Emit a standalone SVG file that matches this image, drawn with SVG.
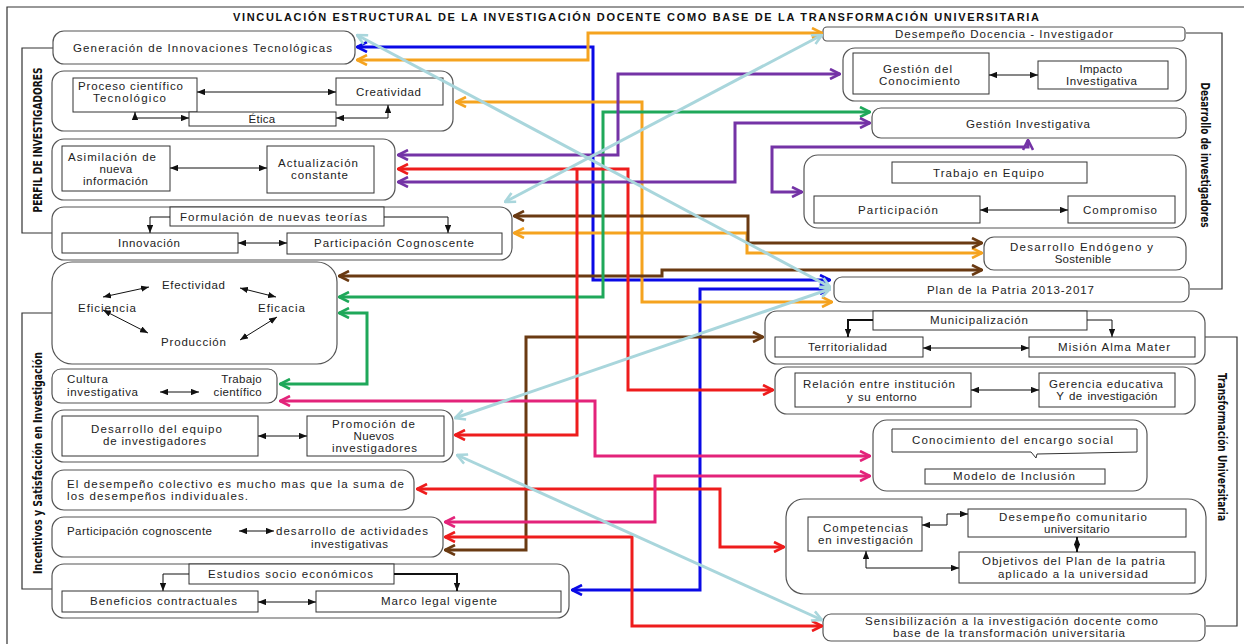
<svg xmlns="http://www.w3.org/2000/svg" width="1244" height="644" viewBox="0 0 1244 644">
  <style>
    .bg { fill: #ffffff; }
    .frame { fill: none; stroke: #333; stroke-width: 1.2; }
    .grp { fill: #fff; stroke: #555; stroke-width: 1.2; }
    .box { fill: #fff; stroke: #333; stroke-width: 1; }
    .t { font-family: "Liberation Sans", Arial, sans-serif; font-size: 11.5px; fill: #222; text-anchor: start; }
    .m { text-anchor: middle; letter-spacing: 0.3px; word-spacing: 1.5px; }
    .tr { text-anchor: end; letter-spacing: 0.3px; }
    .title { font-family: "Liberation Sans", Arial, sans-serif; font-size: 11px; font-weight: bold; fill: #111; }
    .side { font-family: "Liberation Sans Narrow", "DejaVu Sans Condensed", "Liberation Sans", sans-serif; font-size: 13px; font-weight: bold; fill: #111; text-anchor: middle; }
    .blk { fill: none; stroke: #111; stroke-width: 1; }
    .blk2 { fill: none; stroke: #111; stroke-width: 2; }
    .c { fill: none; stroke-width: 3; stroke-linejoin: miter; }
    .blue { stroke: #0a0ae6; }
    .orange { stroke: #f5a31f; }
    .brown { stroke: #6a3a12; }
    .green { stroke: #1fa85a; }
    .red { stroke: #ee1c1c; }
    .purple { stroke: #7433a6; }
    .pink { stroke: #e3237a; }
    .lblue { stroke: #a9d6dc; }
  </style>
  <defs>
    <marker id="tri" viewBox="0 0 10 8" refX="10" refY="4" markerWidth="8" markerHeight="6.5" orient="auto-start-reverse" markerUnits="userSpaceOnUse">
      <path d="M0,0 L10,4 L0,8 z" fill="#111"/>
    </marker>
    <marker id="aBlue" viewBox="0 0 12 12" refX="11" refY="6" markerWidth="12" markerHeight="12" orient="auto-start-reverse" markerUnits="userSpaceOnUse">
      <path d="M1,1 L11,6 L1,11" fill="none" stroke="#0a0ae6" stroke-width="2.6"/>
    </marker>
    <marker id="aOrange" viewBox="0 0 12 12" refX="11" refY="6" markerWidth="12" markerHeight="12" orient="auto-start-reverse" markerUnits="userSpaceOnUse">
      <path d="M1,1 L11,6 L1,11" fill="none" stroke="#f5a31f" stroke-width="2.6"/>
    </marker>
    <marker id="aBrown" viewBox="0 0 12 12" refX="11" refY="6" markerWidth="12" markerHeight="12" orient="auto-start-reverse" markerUnits="userSpaceOnUse">
      <path d="M1,1 L11,6 L1,11" fill="none" stroke="#6a3a12" stroke-width="2.6"/>
    </marker>
    <marker id="aGreen" viewBox="0 0 12 12" refX="11" refY="6" markerWidth="12" markerHeight="12" orient="auto-start-reverse" markerUnits="userSpaceOnUse">
      <path d="M1,1 L11,6 L1,11" fill="none" stroke="#1fa85a" stroke-width="2.6"/>
    </marker>
    <marker id="aRed" viewBox="0 0 12 12" refX="11" refY="6" markerWidth="12" markerHeight="12" orient="auto-start-reverse" markerUnits="userSpaceOnUse">
      <path d="M1,1 L11,6 L1,11" fill="none" stroke="#ee1c1c" stroke-width="2.6"/>
    </marker>
    <marker id="aPurple" viewBox="0 0 12 12" refX="11" refY="6" markerWidth="12" markerHeight="12" orient="auto-start-reverse" markerUnits="userSpaceOnUse">
      <path d="M1,1 L11,6 L1,11" fill="none" stroke="#7433a6" stroke-width="2.6"/>
    </marker>
    <marker id="aPink" viewBox="0 0 12 12" refX="11" refY="6" markerWidth="12" markerHeight="12" orient="auto-start-reverse" markerUnits="userSpaceOnUse">
      <path d="M1,1 L11,6 L1,11" fill="none" stroke="#e3237a" stroke-width="2.6"/>
    </marker>
    <marker id="aLblue" viewBox="0 0 12 12" refX="11" refY="6" markerWidth="12" markerHeight="12" orient="auto-start-reverse" markerUnits="userSpaceOnUse">
      <path d="M1,1 L11,6 L1,11" fill="none" stroke="#a9d6dc" stroke-width="2.6"/>
    </marker>
  </defs>

  <rect class="bg" x="0" y="0" width="1244" height="644"/>
  <path class="frame" d="M7,644 V7 H1244"/>

  <text class="title" x="233" y="21" textLength="806" lengthAdjust="spacing">VINCULACIÓN ESTRUCTURAL  DE LA INVESTIGACIÓN DOCENTE COMO BASE DE LA TRANSFORMACIÓN UNIVERSITARIA</text>

  <!-- side brackets and their labels -->
  <g id="bracket-perfil">
    <path class="frame" d="M53,48 H22 V233 H53"/>
    <text class="side" transform="translate(41.5,140) rotate(-90)" textLength="145" lengthAdjust="spacingAndGlyphs">PERFIL DE INVESTIGADORES</text>
  </g>
  <g id="bracket-incentivos">
    <path class="frame" d="M53,313 H22 V589 H53"/>
    <text class="side" transform="translate(42,463) rotate(-90)" textLength="222" lengthAdjust="spacingAndGlyphs">Incentivos y Satisfacción en Investigación</text>
  </g>
  <g id="bracket-desarrollo">
    <path class="frame" d="M1186,33 H1222 V289 H1190"/>
    <text class="side" transform="translate(1200.5,155) rotate(90)" textLength="145" lengthAdjust="spacingAndGlyphs">Desarrollo de investigadores</text>
  </g>
  <g id="bracket-transformacion">
    <path class="frame" d="M1205,337 H1237 V626 H1206"/>
    <text class="side" transform="translate(1217.5,447) rotate(90)" textLength="148" lengthAdjust="spacingAndGlyphs">Transformación Universitaria</text>
  </g>

  <!-- left column -->
  <g id="n-generacion">
    <rect class="grp" x="53" y="31" width="302" height="33" rx="11"/>
    <text class="t" x="73" y="52" textLength="259" lengthAdjust="spacing">Generación  de  Innovaciones  Tecnológicas</text>
  </g>

  <g id="n-proceso">
    <rect class="grp" x="52" y="71" width="401" height="60" rx="12"/>
    <rect class="box" x="73" y="78" width="124" height="34"/>
    <text class="t" x="78" y="90" textLength="105" lengthAdjust="spacing">Proceso científico</text>
    <text class="t" x="93" y="102" textLength="73" lengthAdjust="spacing">Tecnológico</text>
    <rect class="box" x="336" y="78" width="107" height="27"/>
    <text class="t" x="356" y="96" textLength="65" lengthAdjust="spacing">Creatividad</text>
    <rect class="box" x="189" y="112" width="147" height="14"/>
    <text class="t m" x="262" y="123">Ética</text>
    <path class="blk" d="M197,92 H336" marker-start="url(#tri)" marker-end="url(#tri)"/>
    <path class="blk" d="M135,112 V118 H189" marker-start="url(#tri)" marker-end="url(#tri)"/>
    <path class="blk" d="M336,118 H388 V105" marker-start="url(#tri)" marker-end="url(#tri)"/>
  </g>

  <g id="n-asimilacion">
    <rect class="grp" x="52" y="139" width="343" height="61" rx="12"/>
    <rect class="box" x="62" y="146" width="108" height="45"/>
    <text class="t" x="68" y="161" textLength="88" lengthAdjust="spacing">Asimilación de</text>
    <text class="t m" x="116" y="173">nueva</text>
    <text class="t" x="83" y="185" textLength="65" lengthAdjust="spacing">información</text>
    <rect class="box" x="267" y="146" width="107" height="47"/>
    <text class="t" x="278" y="167" textLength="80" lengthAdjust="spacing">Actualización</text>
    <text class="t" x="291" y="179" textLength="57" lengthAdjust="spacing">constante</text>
    <path class="blk" d="M170,168 H267" marker-start="url(#tri)" marker-end="url(#tri)"/>
  </g>

  <g id="n-formulacion">
    <rect class="grp" x="52" y="207" width="460" height="53" rx="12"/>
    <rect class="box" x="170" y="207" width="214" height="19"/>
    <text class="t" x="180" y="221" textLength="187" lengthAdjust="spacing">Formulación  de  nuevas  teorías</text>
    <rect class="box" x="62" y="233" width="176" height="20"/>
    <text class="t" x="118" y="247" textLength="62" lengthAdjust="spacing">Innovación</text>
    <rect class="box" x="287" y="233" width="215" height="21"/>
    <text class="t" x="314" y="247" textLength="160" lengthAdjust="spacing">Participación  Cognoscente</text>
    <path class="blk" d="M170,217 H150 V233" marker-end="url(#tri)"/>
    <path class="blk" d="M384,217 H448 V233" marker-end="url(#tri)"/>
    <path class="blk" d="M238,243 H287" marker-start="url(#tri)" marker-end="url(#tri)"/>
  </g>

  <g id="n-efectividad">
    <rect class="grp" x="52" y="262" width="285" height="102" rx="20"/>
    <text class="t" x="162" y="289" textLength="63" lengthAdjust="spacing">Efectividad</text>
    <text class="t" x="78" y="312" textLength="58" lengthAdjust="spacing">Eficiencia</text>
    <text class="t" x="258" y="312" textLength="47" lengthAdjust="spacing">Eficacia</text>
    <text class="t" x="161" y="346" textLength="65" lengthAdjust="spacing">Producción</text>
    <path class="blk" d="M103,297 L149,287" marker-start="url(#tri)" marker-end="url(#tri)"/>
    <path class="blk" d="M240,288 L276,297" marker-start="url(#tri)" marker-end="url(#tri)"/>
    <path class="blk" d="M103,310 L148,333" marker-start="url(#tri)" marker-end="url(#tri)"/>
    <path class="blk" d="M240,340 L277,317" marker-start="url(#tri)" marker-end="url(#tri)"/>
  </g>

  <g id="n-cultura">
    <rect class="grp" x="52" y="369" width="225" height="34" rx="9"/>
    <text class="t" x="67" y="383" textLength="41" lengthAdjust="spacing">Cultura</text>
    <text class="t" x="67" y="396" textLength="71" lengthAdjust="spacing">investigativa</text>
    <text class="t tr" x="262" y="383">Trabajo</text>
    <text class="t tr" x="262" y="396">científico</text>
    <path class="blk" d="M160,392 H199" marker-start="url(#tri)" marker-end="url(#tri)"/>
  </g>

  <g id="n-equipo">
    <rect class="grp" x="52" y="410" width="401" height="52" rx="12"/>
    <rect class="box" x="62" y="416" width="196" height="40"/>
    <text class="t" x="91" y="433" textLength="131" lengthAdjust="spacing">Desarrollo  del  equipo</text>
    <text class="t" x="103" y="445" textLength="103" lengthAdjust="spacing">de investigadores</text>
    <rect class="box" x="307" y="416" width="137" height="40"/>
    <text class="t" x="332" y="428" textLength="83" lengthAdjust="spacing">Promoción  de</text>
    <text class="t m" x="374" y="440">Nuevos</text>
    <text class="t" x="332" y="452" textLength="85" lengthAdjust="spacing">investigadores</text>
    <path class="blk" d="M258,436 H307" marker-start="url(#tri)" marker-end="url(#tri)"/>
  </g>

  <g id="n-colectivo">
    <rect class="grp" x="52" y="470" width="362" height="40" rx="12"/>
    <text class="t" x="67" y="488" textLength="337" lengthAdjust="spacing">El desempeño  colectivo  es  mucho  mas  que  la  suma  de</text>
    <text class="t" x="67" y="500" textLength="181" lengthAdjust="spacing">los  desempeños  individuales.</text>
  </g>

  <g id="n-participacion">
    <rect class="grp" x="52" y="517" width="391" height="40" rx="12"/>
    <text class="t" x="67" y="535" textLength="145" lengthAdjust="spacing">Participación  cognoscente</text>
    <path class="blk" d="M239,531 H274" marker-start="url(#tri)" marker-end="url(#tri)"/>
    <text class="t" x="276" y="535" textLength="152" lengthAdjust="spacing">desarrollo  de  actividades</text>
    <text class="t" x="311" y="548" textLength="77" lengthAdjust="spacing">investigativas</text>
  </g>

  <g id="n-estudios">
    <rect class="grp" x="52" y="564" width="517" height="54" rx="12"/>
    <rect class="box" x="189" y="564" width="205" height="20"/>
    <text class="t" x="208" y="578" textLength="165" lengthAdjust="spacing">Estudios  socio  económicos</text>
    <rect class="box" x="62" y="591" width="196" height="21"/>
    <text class="t" x="90" y="605" textLength="147" lengthAdjust="spacing">Beneficios  contractuales</text>
    <rect class="box" x="316" y="591" width="245" height="21"/>
    <text class="t" x="381" y="605" textLength="116" lengthAdjust="spacing">Marco  legal  vigente</text>
    <path class="blk" d="M189,574 H163 V591" marker-end="url(#tri)"/>
    <path class="blk2" d="M394,574 H457 V591" marker-end="url(#tri)"/>
    <path class="blk" d="M258,602 H316" marker-start="url(#tri)" marker-end="url(#tri)"/>
  </g>

  <!-- right column -->
  <g id="n-desempeno">
    <rect class="grp" x="823" y="27" width="362" height="14" rx="4"/>
    <text class="t" x="895" y="38" textLength="218" lengthAdjust="spacing">Desempeño  Docencia  -  Investigador</text>
  </g>

  <g id="n-gestion-conocimiento">
    <rect class="grp" x="843" y="48" width="343" height="53" rx="12"/>
    <rect class="box" x="853" y="53" width="136" height="41"/>
    <text class="t" x="883" y="73" textLength="69" lengthAdjust="spacing">Gestión  del</text>
    <text class="t" x="879" y="85" textLength="81" lengthAdjust="spacing">Conocimiento</text>
    <rect class="box" x="1038" y="61" width="130" height="28"/>
    <text class="t m" x="1101" y="73">Impacto</text>
    <text class="t" x="1066" y="85" textLength="71" lengthAdjust="spacing">Investigativa</text>
    <path class="blk" d="M989,75 H1038" marker-start="url(#tri)" marker-end="url(#tri)"/>
  </g>

  <g id="n-gestion-investigativa">
    <rect class="grp" x="872" y="108" width="314" height="30" rx="9"/>
    <text class="t" x="966" y="128" textLength="124" lengthAdjust="spacing">Gestión  Investigativa</text>
  </g>

  <g id="n-trabajo-equipo">
    <rect class="grp" x="804" y="155" width="382" height="73" rx="14"/>
    <rect class="box" x="892" y="162" width="195" height="21"/>
    <text class="t" x="933" y="177" textLength="111" lengthAdjust="spacing">Trabajo  en  Equipo</text>
    <rect class="box" x="814" y="196" width="166" height="27"/>
    <text class="t" x="858" y="214" textLength="80" lengthAdjust="spacing">Participación</text>
    <rect class="box" x="1068" y="196" width="107" height="27"/>
    <text class="t" x="1083" y="214" textLength="74" lengthAdjust="spacing">Compromiso</text>
    <path class="blk" d="M980,210 H1068" marker-start="url(#tri)" marker-end="url(#tri)"/>
  </g>

  <g id="n-endogeno">
    <rect class="grp" x="984" y="237" width="202" height="33" rx="10"/>
    <text class="t" x="1010" y="251" textLength="143" lengthAdjust="spacing">Desarrollo  Endógeno  y</text>
    <text class="t m" x="1083" y="263">Sostenible</text>
  </g>

  <g id="n-plan-patria">
    <rect class="grp" x="834" y="277" width="355" height="25" rx="8"/>
    <text class="t" x="927" y="294" textLength="167" lengthAdjust="spacing">Plan de la Patria 2013-2017</text>
  </g>

  <g id="n-municipalizacion">
    <rect class="grp" x="765" y="311" width="440" height="53" rx="12"/>
    <rect class="box" x="873" y="311" width="214" height="19"/>
    <text class="t" x="930" y="324" textLength="98" lengthAdjust="spacing">Municipalización</text>
    <rect class="box" x="775" y="337" width="148" height="20"/>
    <text class="t" x="808" y="351" textLength="79" lengthAdjust="spacing">Territorialidad</text>
    <rect class="box" x="1029" y="337" width="166" height="20"/>
    <text class="t" x="1058" y="351" textLength="112" lengthAdjust="spacing">Misión  Alma  Mater</text>
    <path class="blk2" d="M873,320 H848 V337" marker-end="url(#tri)"/>
    <path class="blk" d="M1087,320 H1112 V337" marker-end="url(#tri)"/>
    <path class="blk" d="M923,348 H1029" marker-start="url(#tri)" marker-end="url(#tri)"/>
  </g>

  <g id="n-relacion">
    <rect class="grp" x="775" y="367" width="420" height="47" rx="12"/>
    <rect class="box" x="795" y="373" width="176" height="34"/>
    <text class="t" x="803" y="388" textLength="152" lengthAdjust="spacing">Relación  entre  institución</text>
    <text class="t m" x="882" y="401">y  su entorno</text>
    <rect class="box" x="1039" y="373" width="136" height="34"/>
    <text class="t" x="1049" y="388" textLength="114" lengthAdjust="spacing">Gerencia  educativa</text>
    <text class="t m" x="1107" y="400">Y de investigación</text>
    <path class="blk" d="M971,390 H1039" marker-start="url(#tri)" marker-end="url(#tri)"/>
  </g>

  <g id="n-encargo">
    <rect class="grp" x="873" y="420" width="274" height="71" rx="14"/>
    <path class="box" d="M892,429 H1137 V452 L1037,454 L1036,458 L1031,452 H892 Z"/>
    <text class="t" x="912" y="444" textLength="201" lengthAdjust="spacing">Conocimiento  del  encargo  social</text>
    <rect class="box" x="925" y="469" width="180" height="15"/>
    <text class="t" x="953" y="480" textLength="122" lengthAdjust="spacing">Modelo  de  Inclusión</text>
  </g>

  <g id="n-competencias">
    <rect class="grp" x="786" y="499" width="420" height="95" rx="18"/>
    <rect class="box" x="808" y="517" width="114" height="34"/>
    <text class="t" x="823" y="532" textLength="85" lengthAdjust="spacing">Competencias</text>
    <text class="t" x="818" y="544" textLength="95" lengthAdjust="spacing">en investigación</text>
    <rect class="box" x="968" y="509" width="218" height="28"/>
    <text class="t" x="999" y="521" textLength="148" lengthAdjust="spacing">Desempeño  comunitario</text>
    <text class="t m" x="1077" y="533">universitario</text>
    <rect class="box" x="959" y="552" width="236" height="31"/>
    <text class="t" x="982" y="565" textLength="183" lengthAdjust="spacing">Objetivos  del Plan de la patria</text>
    <text class="t" x="998" y="578" textLength="150" lengthAdjust="spacing">aplicado  a la universidad</text>
    <path class="blk" d="M922,525 H947 V514 H968" marker-start="url(#tri)" marker-end="url(#tri)"/>
    <path class="blk2" d="M1077,537 V552" marker-start="url(#tri)" marker-end="url(#tri)"/>
    <path class="blk" d="M866,551 V568 H959" marker-start="url(#tri)" marker-end="url(#tri)"/>
  </g>

  <g id="n-sensibilizacion">
    <rect class="grp" x="823" y="614" width="382" height="27" rx="8"/>
    <text class="t" x="865" y="625" textLength="293" lengthAdjust="spacing">Sensibilización a la investigación  docente como</text>
    <text class="t" x="893" y="637" textLength="232" lengthAdjust="spacing">base de la transformación  universitaria</text>
  </g>

  <!-- coloured links between the blocks -->
  <g id="connectors">
    <path class="c blue" d="M357,47 H593 V280 H830" marker-start="url(#aBlue)" marker-end="url(#aBlue)"/>
    <path class="c blue" d="M830,289 H700 V590 H572" marker-start="url(#aBlue)" marker-end="url(#aBlue)"/>

    <path class="c orange" d="M357,60 H588 V33 H822" marker-start="url(#aOrange)" marker-end="url(#aOrange)"/>
    <path class="c orange" d="M456,102 H642 V302 H832" marker-start="url(#aOrange)" marker-end="url(#aOrange)"/>
    <path class="c orange" d="M514,233 H747 V253 H982" marker-start="url(#aOrange)" marker-end="url(#aOrange)"/>

    <path class="c brown" d="M514,216 H748 V243 H982" marker-start="url(#aBrown)" marker-end="url(#aBrown)"/>
    <path class="c brown" d="M339,276 H662 V270 H982" marker-start="url(#aBrown)" marker-end="url(#aBrown)"/>
    <path class="c brown" d="M763,337 H526 V550 H445" marker-start="url(#aBrown)" marker-end="url(#aBrown)"/>

    <path class="c green" d="M870,112 H603 V297 H339" marker-start="url(#aGreen)" marker-end="url(#aGreen)"/>
    <path class="c green" d="M339,313 H367 V384 H280" marker-start="url(#aGreen)" marker-end="url(#aGreen)"/>

    <path class="c red" d="M398,169 H628 V390 H773" marker-start="url(#aRed)" marker-end="url(#aRed)"/>
    <path class="c red" d="M577,169 V435 H455" marker-end="url(#aRed)"/>
    <path class="c red" d="M417,489 H720 V547 H784" marker-start="url(#aRed)" marker-end="url(#aRed)"/>
    <path class="c red" d="M445,537 H632 V626 H822" marker-start="url(#aRed)" marker-end="url(#aRed)"/>

    <path class="c purple" d="M398,155 H618 V74 H840" marker-start="url(#aPurple)" marker-end="url(#aPurple)"/>
    <path class="c purple" d="M398,182 H735 V123 H870" marker-start="url(#aPurple)" marker-end="url(#aPurple)"/>
    <path class="c purple" d="M1028,140 V147 H772 V192 H802" marker-start="url(#aPurple)" marker-end="url(#aPurple)"/>

    <path class="c pink" d="M280,401 H595 V456 H870" marker-start="url(#aPink)" marker-end="url(#aPink)"/>
    <path class="c pink" d="M445,522 H655 V476 H870" marker-start="url(#aPink)" marker-end="url(#aPink)"/>

    <path class="c lblue" d="M357,35 L830,287" marker-start="url(#aLblue)" marker-end="url(#aLblue)"/>
    <path class="c lblue" d="M505,202 L822,35" marker-start="url(#aLblue)" marker-end="url(#aLblue)"/>
    <path class="c lblue" d="M455,418 L830,289" marker-start="url(#aLblue)" marker-end="url(#aLblue)"/>
    <path class="c lblue" d="M457,455 L822,620" marker-start="url(#aLblue)" marker-end="url(#aLblue)"/>
  </g>
</svg>
